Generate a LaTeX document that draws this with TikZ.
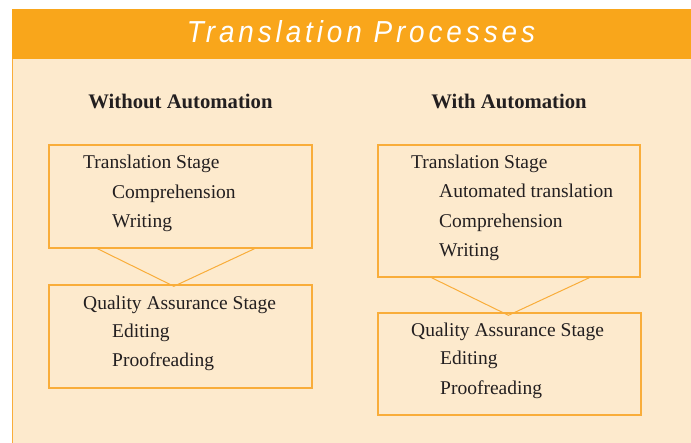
\documentclass[tikz,border=0pt]{standalone}
\usepackage{fontspec}
\setmainfont{Liberation Serif}
\newfontfamily\titlefont[LetterSpace=14]{Liberation Sans}
\usetikzlibrary{calc}
\definecolor{bandorange}{HTML}{F9A61B}
\definecolor{paneltint}{HTML}{FDEACD}
\definecolor{boxline}{HTML}{F9AD3A}
\definecolor{inkdark}{HTML}{231F20}

\begin{document}
\begin{tikzpicture}[x=1pt,y=-1pt,
  stagebox/.style={draw=boxline, line width=1.4pt, minimum width=263pt, inner sep=0pt},
  stagetext/.style={anchor=base west, inner sep=0pt, text=inkdark, font=\fontsize{19.5}{22}\selectfont},
  colhead/.style={anchor=base, inner sep=0pt, text=inkdark, font=\fontsize{20.7}{24}\selectfont\bfseries},
  vlink/.style={draw=boxline, line width=1pt, line join=miter}
]
\useasboundingbox (0,0) rectangle (691,443);
\fill[white] (0,0) rectangle (691,443);
% panel and title band
\fill[paneltint] (12,59) rectangle (691,443);
\draw[boxline, line width=1pt] (12.5,59) -- (12.5,443);
\fill[bandorange] (12,9) rectangle (691,59);
\node[anchor=base, inner sep=0pt, text=white] (title) at (361,43)
  {\resizebox{348pt}{22pt}{\titlefont\itshape Translation Processes}};

% column headings
\node[colhead] (hleft) at (180.5,109) {Without Automation};
\node[colhead] (hright) at (509,109) {With Automation};

% stage boxes
\node[stagebox, minimum height=103pt] (tl) at (180.5,196.5) {};
\node[stagebox, minimum height=103pt] (bl) at (180.5,336.5) {};
\node[stagebox, minimum width=262pt, minimum height=132pt] (tr) at (509,211) {};
\node[stagebox, minimum height=102pt] (br) at (509.5,364) {};

% connectors between stages
\draw[vlink] ($(tl.south west)!0.186!(tl.south east)$)
  -- ($(bl.north west)!0.475!(bl.north east)+(0,2)$)
  -- ($(tl.south west)!0.78!(tl.south east)$);
\draw[vlink] ($(tr.south west)!0.206!(tr.south east)$)
  -- ($(br.north west)!0.496!(br.north east)+(0,3)$)
  -- ($(tr.south west)!0.805!(tr.south east)$);

% without automation
\node[stagetext] (tl1) at (83,169) {Translation Stage};
\node[stagetext] (tl2) at (112,199) {Comprehension};
\node[stagetext] (tl3) at (112,228) {Writing};
\node[stagetext] (bl1) at (83,310) {Quality Assurance Stage};
\node[stagetext] (bl2) at (112,338) {Editing};
\node[stagetext] (bl3) at (112,367) {Proofreading};

% with automation
\node[stagetext] (tr1) at (411,169) {Translation Stage};
\node[stagetext] (tr2) at (439,198) {Automated translation};
\node[stagetext] (tr3) at (439,228) {Comprehension};
\node[stagetext] (tr4) at (439,257) {Writing};
\node[stagetext] (br1) at (411,337) {Quality Assurance Stage};
\node[stagetext] (br2) at (440,365) {Editing};
\node[stagetext] (br3) at (440,395) {Proofreading};
\end{tikzpicture}
\end{document}
